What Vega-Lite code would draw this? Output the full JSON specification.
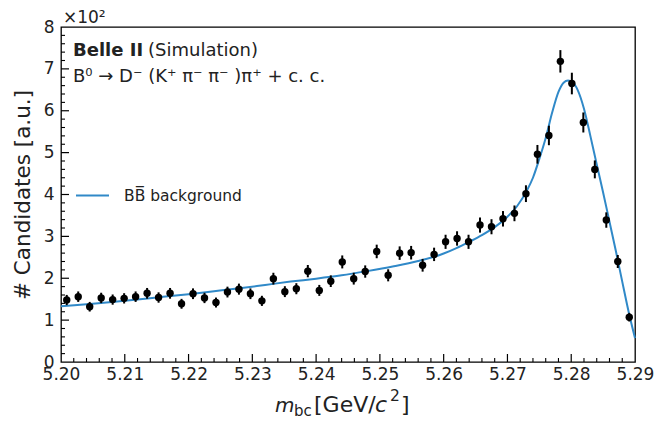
{
  "$schema": "https://vega.github.io/schema/vega-lite/v6.json",
  "width": 574,
  "height": 335,
  "autosize": {"type": "none"},
  "padding": {"left": 61, "top": 27, "right": 22, "bottom": 61},
  "background": "white",
  "config": {
    "font": "DejaVu Sans",
    "view": {"stroke": "black", "strokeWidth": 1.3},
    "axis": {"domain": false, "ticks": false, "grid": false,
      "labelColor": "#222", "titleColor": "#222", "labelFont": "DejaVu Sans", "titleFont": "DejaVu Sans"},
    "legend": {"labelFont": "DejaVu Sans"}
  },
  "datasets": {
    "bins": [
      {"m": 5.2009, "n": 1.48, "err": 0.122},
      {"m": 5.2027, "n": 1.56, "err": 0.125},
      {"m": 5.2045, "n": 1.32, "err": 0.115},
      {"m": 5.2063, "n": 1.53, "err": 0.124},
      {"m": 5.2081, "n": 1.49, "err": 0.122},
      {"m": 5.2099, "n": 1.52, "err": 0.123},
      {"m": 5.2117, "n": 1.56, "err": 0.125},
      {"m": 5.2135, "n": 1.64, "err": 0.128},
      {"m": 5.2153, "n": 1.54, "err": 0.124},
      {"m": 5.2171, "n": 1.64, "err": 0.128},
      {"m": 5.2189, "n": 1.39, "err": 0.118},
      {"m": 5.2207, "n": 1.63, "err": 0.128},
      {"m": 5.2225, "n": 1.53, "err": 0.124},
      {"m": 5.2243, "n": 1.42, "err": 0.119},
      {"m": 5.2261, "n": 1.67, "err": 0.129},
      {"m": 5.2279, "n": 1.74, "err": 0.132},
      {"m": 5.2297, "n": 1.63, "err": 0.128},
      {"m": 5.2315, "n": 1.46, "err": 0.121},
      {"m": 5.2333, "n": 1.99, "err": 0.141},
      {"m": 5.2351, "n": 1.68, "err": 0.130},
      {"m": 5.2369, "n": 1.75, "err": 0.132},
      {"m": 5.2387, "n": 2.17, "err": 0.147},
      {"m": 5.2405, "n": 1.71, "err": 0.131},
      {"m": 5.2423, "n": 1.93, "err": 0.139},
      {"m": 5.2441, "n": 2.39, "err": 0.155},
      {"m": 5.2459, "n": 1.99, "err": 0.141},
      {"m": 5.2477, "n": 2.16, "err": 0.147},
      {"m": 5.2495, "n": 2.64, "err": 0.162},
      {"m": 5.2513, "n": 2.07, "err": 0.144},
      {"m": 5.2531, "n": 2.60, "err": 0.161},
      {"m": 5.2549, "n": 2.61, "err": 0.162},
      {"m": 5.2567, "n": 2.31, "err": 0.152},
      {"m": 5.2585, "n": 2.57, "err": 0.160},
      {"m": 5.2603, "n": 2.87, "err": 0.169},
      {"m": 5.2621, "n": 2.95, "err": 0.172},
      {"m": 5.2639, "n": 2.87, "err": 0.169},
      {"m": 5.2657, "n": 3.27, "err": 0.181},
      {"m": 5.2675, "n": 3.23, "err": 0.180},
      {"m": 5.2693, "n": 3.42, "err": 0.185},
      {"m": 5.2711, "n": 3.55, "err": 0.188},
      {"m": 5.2729, "n": 4.02, "err": 0.200},
      {"m": 5.2747, "n": 4.96, "err": 0.223},
      {"m": 5.2765, "n": 5.41, "err": 0.233},
      {"m": 5.2783, "n": 7.18, "err": 0.268},
      {"m": 5.2801, "n": 6.65, "err": 0.258},
      {"m": 5.2819, "n": 5.72, "err": 0.239},
      {"m": 5.2837, "n": 4.60, "err": 0.214},
      {"m": 5.2855, "n": 3.39, "err": 0.184},
      {"m": 5.2873, "n": 2.40, "err": 0.155},
      {"m": 5.2891, "n": 1.07, "err": 0.103}
    ],
    "fit": [
      {"m": 5.2000, "n": 1.33},
      {"m": 5.2040, "n": 1.38},
      {"m": 5.2080, "n": 1.43},
      {"m": 5.2120, "n": 1.49},
      {"m": 5.2160, "n": 1.56},
      {"m": 5.2200, "n": 1.62},
      {"m": 5.2240, "n": 1.69},
      {"m": 5.2280, "n": 1.76},
      {"m": 5.2320, "n": 1.84},
      {"m": 5.2360, "n": 1.92},
      {"m": 5.2400, "n": 1.99},
      {"m": 5.2440, "n": 2.07},
      {"m": 5.2480, "n": 2.17},
      {"m": 5.2520, "n": 2.28},
      {"m": 5.2560, "n": 2.41},
      {"m": 5.2600, "n": 2.59},
      {"m": 5.2620, "n": 2.72},
      {"m": 5.2640, "n": 2.87},
      {"m": 5.2660, "n": 3.03},
      {"m": 5.2680, "n": 3.22},
      {"m": 5.2700, "n": 3.47},
      {"m": 5.2715, "n": 3.72},
      {"m": 5.2730, "n": 4.08},
      {"m": 5.2740, "n": 4.40},
      {"m": 5.2750, "n": 4.85},
      {"m": 5.2760, "n": 5.35},
      {"m": 5.2770, "n": 5.95},
      {"m": 5.2780, "n": 6.45},
      {"m": 5.2788, "n": 6.67},
      {"m": 5.2795, "n": 6.72},
      {"m": 5.2802, "n": 6.68},
      {"m": 5.2810, "n": 6.50},
      {"m": 5.2820, "n": 6.05},
      {"m": 5.2830, "n": 5.40},
      {"m": 5.2840, "n": 4.72},
      {"m": 5.2850, "n": 4.05},
      {"m": 5.2860, "n": 3.35},
      {"m": 5.2870, "n": 2.65},
      {"m": 5.2880, "n": 1.92},
      {"m": 5.2890, "n": 1.20},
      {"m": 5.2900, "n": 0.57}
    ],
    "xmajor": [{"v": 5.21}, {"v": 5.22}, {"v": 5.23}, {"v": 5.24}, {"v": 5.25}, {"v": 5.26}, {"v": 5.27}, {"v": 5.28}],
    "xminor": [{"v": 5.202}, {"v": 5.204}, {"v": 5.206}, {"v": 5.208}, {"v": 5.212}, {"v": 5.214}, {"v": 5.216}, {"v": 5.218},
      {"v": 5.222}, {"v": 5.224}, {"v": 5.226}, {"v": 5.228}, {"v": 5.232}, {"v": 5.234}, {"v": 5.236}, {"v": 5.238},
      {"v": 5.242}, {"v": 5.244}, {"v": 5.246}, {"v": 5.248}, {"v": 5.252}, {"v": 5.254}, {"v": 5.256}, {"v": 5.258},
      {"v": 5.262}, {"v": 5.264}, {"v": 5.266}, {"v": 5.268}, {"v": 5.272}, {"v": 5.274}, {"v": 5.276}, {"v": 5.278},
      {"v": 5.282}, {"v": 5.284}, {"v": 5.286}, {"v": 5.288}],
    "ymajor": [{"v": 1}, {"v": 2}, {"v": 3}, {"v": 4}, {"v": 5}, {"v": 6}, {"v": 7}],
    "yminor": [{"v": 0.2}, {"v": 0.4}, {"v": 0.6}, {"v": 0.8}, {"v": 1.2}, {"v": 1.4}, {"v": 1.6}, {"v": 1.8},
      {"v": 2.2}, {"v": 2.4}, {"v": 2.6}, {"v": 2.8}, {"v": 3.2}, {"v": 3.4}, {"v": 3.6}, {"v": 3.8},
      {"v": 4.2}, {"v": 4.4}, {"v": 4.6}, {"v": 4.8}, {"v": 5.2}, {"v": 5.4}, {"v": 5.6}, {"v": 5.8},
      {"v": 6.2}, {"v": 6.4}, {"v": 6.6}, {"v": 6.8}, {"v": 7.2}, {"v": 7.4}, {"v": 7.6}, {"v": 7.8}],
    "one": [{}]
  },
  "resolve": {"axis": {"x": "independent", "y": "independent"}},
  "layer": [
    {
      "data": {"name": "fit"},
      "mark": {"type": "line", "strokeWidth": 2, "interpolate": "monotone"},
      "encoding": {
        "x": {"field": "m", "type": "quantitative", "scale": {"domain": [5.2, 5.29], "nice": false, "zero": false}, "axis": null},
        "y": {"field": "n", "type": "quantitative", "scale": {"domain": [0, 8], "nice": false}, "axis": null},
        "color": {"datum": "BB̅ background", "type": "nominal", "scale": {"range": ["#3089c8"]},
          "legend": {"orient": "none", "legendX": 14, "legendY": 151, "title": null, "padding": 0,
            "symbolType": "stroke", "symbolSize": 1089, "symbolStrokeWidth": 2, "labelFontSize": 15.5,
            "labelOffset": 14, "labelColor": "#222"}}
      }
    },
    {
      "data": {"name": "xmajor"},
      "mark": {"type": "tick", "orient": "vertical", "size": 8, "thickness": 1.2, "yOffset": -4, "color": "black", "opacity": 1},
      "encoding": {"x": {"field": "v", "type": "quantitative", "axis": null}, "y": {"datum": 0, "type": "quantitative", "axis": null}}
    },
    {
      "data": {"name": "xminor"},
      "mark": {"type": "tick", "orient": "vertical", "size": 4, "thickness": 1.1, "yOffset": -2, "color": "black", "opacity": 1},
      "encoding": {"x": {"field": "v", "type": "quantitative", "axis": null}, "y": {"datum": 0, "type": "quantitative", "axis": null}}
    },
    {
      "data": {"name": "ymajor"},
      "mark": {"type": "tick", "orient": "horizontal", "size": 8, "thickness": 1.2, "xOffset": 4, "color": "black", "opacity": 1},
      "encoding": {"y": {"field": "v", "type": "quantitative", "axis": null}, "x": {"datum": 5.2, "type": "quantitative", "axis": null}}
    },
    {
      "data": {"name": "yminor"},
      "mark": {"type": "tick", "orient": "horizontal", "size": 4, "thickness": 1.1, "xOffset": 2, "color": "black", "opacity": 1},
      "encoding": {"y": {"field": "v", "type": "quantitative", "axis": null}, "x": {"datum": 5.2, "type": "quantitative", "axis": null}}
    },
    {
      "data": {"name": "bins"},
      "mark": {"type": "errorbar", "ticks": false, "color": "black", "thickness": 2},
      "encoding": {
        "x": {"field": "m", "type": "quantitative", "axis": null},
        "y": {"field": "n", "type": "quantitative", "axis": null},
        "yError": {"field": "err"}
      }
    },
    {
      "data": {"name": "bins"},
      "mark": {"type": "point", "filled": true, "size": 55, "color": "black", "opacity": 1},
      "encoding": {
        "x": {"field": "m", "type": "quantitative",
          "axis": {"orient": "bottom", "title": null,
            "labelFontSize": 17, "labelPadding": 4, "format": ".2f",
            "labelFlush": false, "labelOverlap": false,
            "values": [5.2,5.21,5.22,5.23,5.24,5.25,5.26,5.27,5.28,5.29]}},
        "y": {"field": "n", "type": "quantitative",
          "axis": {"orient": "left",
            "labelFontSize": 17, "labelPadding": 7,
            "labelFlush": false, "labelOverlap": false,
            "values": [0,1,2,3,4,5,6,7,8],
            "title": "# Candidates [a.u.]", "titleFontSize": 21.5, "titleFontWeight": "normal",
            "titleX": -27, "titleY": 167.5}}
      }
    },
    {
      "data": {"name": "one"},
      "mark": {"type": "text", "text": "×10²", "fontSize": 17, "align": "left", "baseline": "alphabetic", "color": "#222"},
      "encoding": {"x": {"datum": 5.2003, "type": "quantitative", "axis": null}, "y": {"datum": 8.107, "type": "quantitative", "axis": null}}
    },
    {
      "data": {"name": "one"},
      "mark": {"type": "text", "text": "Belle II", "fontSize": 18, "fontWeight": "bold", "align": "left", "baseline": "alphabetic", "color": "#222"},
      "encoding": {"x": {"datum": 5.20188, "type": "quantitative", "axis": null}, "y": {"datum": 7.296, "type": "quantitative", "axis": null}}
    },
    {
      "data": {"name": "one"},
      "mark": {"type": "text", "text": "(Simulation)", "fontSize": 18, "align": "left", "baseline": "alphabetic", "color": "#222"},
      "encoding": {"x": {"datum": 5.21364, "type": "quantitative", "axis": null}, "y": {"datum": 7.296, "type": "quantitative", "axis": null}}
    },
    {
      "data": {"name": "one"},
      "mark": {"type": "text", "text": "B⁰ → D⁻ (K⁺ π⁻ π⁻ )π⁺ + c. c.", "fontSize": 18, "align": "left", "baseline": "alphabetic", "color": "#222"},
      "encoding": {"x": {"datum": 5.20188, "type": "quantitative", "axis": null}, "y": {"datum": 6.675, "type": "quantitative", "axis": null}}
    },
    {
      "data": {"name": "one"},
      "mark": {"type": "text", "text": "m", "fontSize": 20, "fontStyle": "italic", "align": "left", "baseline": "alphabetic", "color": "#222"},
      "encoding": {"x": {"datum": 5.23355, "type": "quantitative", "axis": null}, "y": {"datum": -1.199, "type": "quantitative", "axis": null}}
    },
    {
      "data": {"name": "one"},
      "mark": {"type": "text", "text": "bc", "fontSize": 15, "align": "left", "baseline": "alphabetic", "color": "#222"},
      "encoding": {"x": {"datum": 5.23653, "type": "quantitative", "axis": null}, "y": {"datum": -1.278, "type": "quantitative", "axis": null}}
    },
    {
      "data": {"name": "one"},
      "mark": {"type": "text", "text": "[GeV/", "fontSize": 22, "align": "left", "baseline": "alphabetic", "color": "#222"},
      "encoding": {"x": {"datum": 5.23967, "type": "quantitative", "axis": null}, "y": {"datum": -1.199, "type": "quantitative", "axis": null}}
    },
    {
      "data": {"name": "one"},
      "mark": {"type": "text", "text": "c", "fontSize": 22, "fontStyle": "italic", "align": "left", "baseline": "alphabetic", "color": "#222"},
      "encoding": {"x": {"datum": 5.24923, "type": "quantitative", "axis": null}, "y": {"datum": -1.199, "type": "quantitative", "axis": null}}
    },
    {
      "data": {"name": "one"},
      "mark": {"type": "text", "text": "2", "fontSize": 15.5, "align": "left", "baseline": "alphabetic", "color": "#222"},
      "encoding": {"x": {"datum": 5.25158, "type": "quantitative", "axis": null}, "y": {"datum": -0.943, "type": "quantitative", "axis": null}}
    },
    {
      "data": {"name": "one"},
      "mark": {"type": "text", "text": "]", "fontSize": 22, "align": "left", "baseline": "alphabetic", "color": "#222"},
      "encoding": {"x": {"datum": 5.25331, "type": "quantitative", "axis": null}, "y": {"datum": -1.199, "type": "quantitative", "axis": null}}
    }
  ]
}
